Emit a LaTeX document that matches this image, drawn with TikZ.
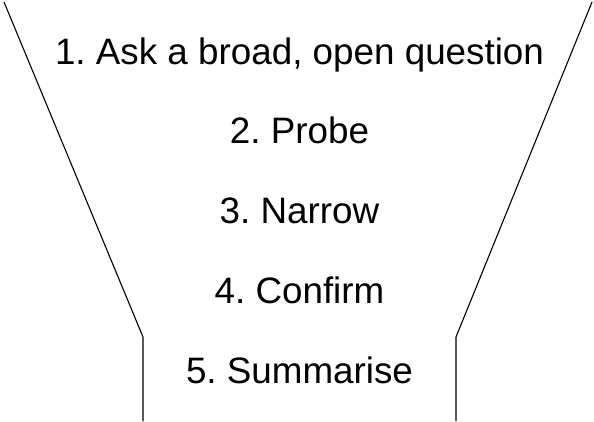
\documentclass[tikz,border=0pt]{standalone}
\usepackage{fontspec}
\setmainfont{Liberation Sans}
\frenchspacing
\begin{document}
\begin{tikzpicture}[x=1pt,y=-1pt,
  stage/.style={anchor=base,inner sep=0pt,font=\fontsize{36.8}{40}\selectfont},
  wall/.style={line width=1.1pt,black}]
\useasboundingbox (0,0) rectangle (594,421);
% funnel outline
\coordinate (ltop) at (4,2);
\coordinate (lneck) at (143,337);
\coordinate (lbot) at (143,421);
\coordinate (rtop) at (592,2);
\coordinate (rneck) at (456,337);
\coordinate (rbot) at (456,421);
\draw[wall] (ltop) -- (lneck) -- (lbot);
\draw[wall] (rtop) -- (rneck) -- (rbot);
% stages
\node[stage] (s1) at (299.5,64) {1. Ask a broad, open question};
\node[stage] (s2) at (299.5,143) {2. Probe};
\node[stage] (s3) at (299.5,223) {3. Narrow};
\node[stage] (s4) at (299.5,303) {4. Confirm};
\node[stage] (s5) at (299.5,383) {5. Summarise};
\end{tikzpicture}
\end{document}
